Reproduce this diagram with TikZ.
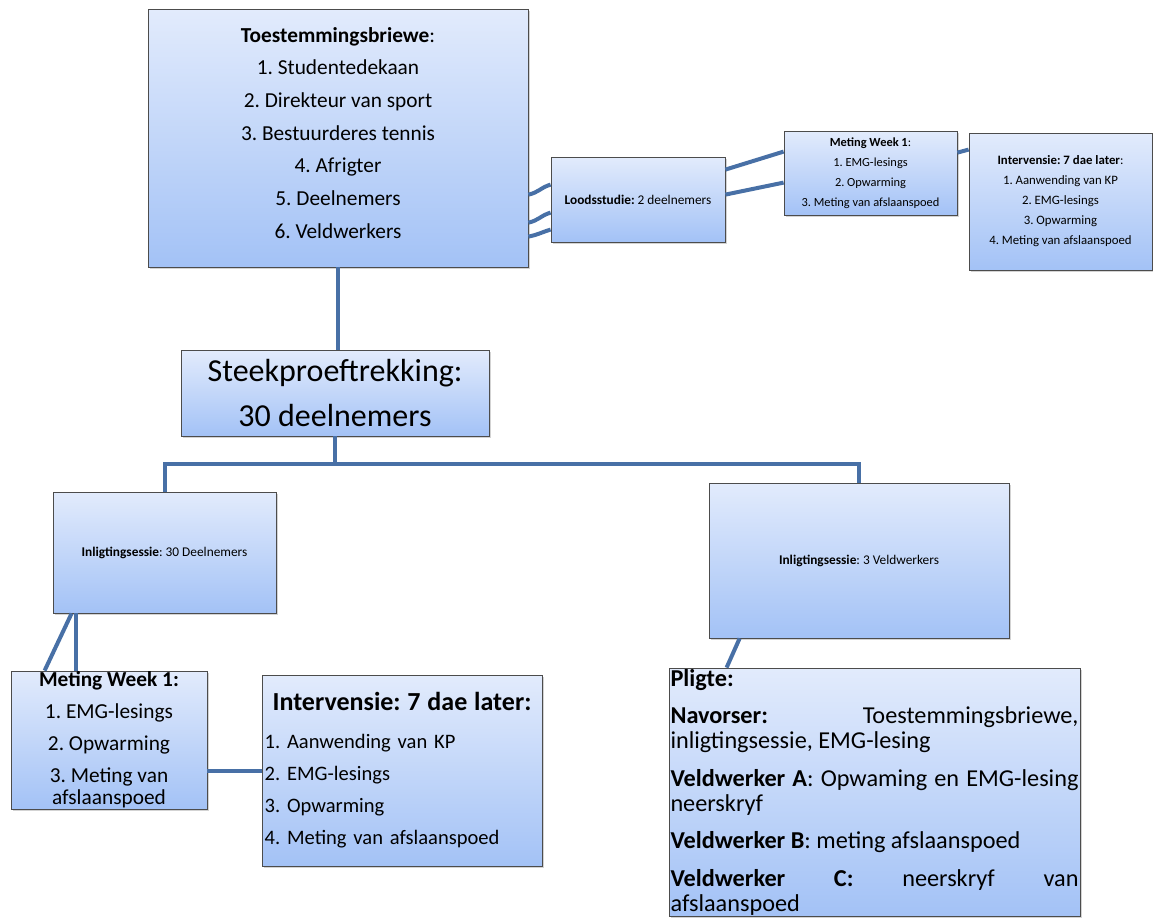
\documentclass[tikz,border=0pt]{standalone}
\usepackage{fontspec}
\setmainfont{Carlito}
\usetikzlibrary{positioning,calc,shadows}
\definecolor{boxtop}{RGB}{226,235,252}
\definecolor{boxbot}{RGB}{163,194,246}
\definecolor{linkblue}{RGB}{72,112,166}
\tikzset{
	stage/.style={draw=black!70,line width=0.6pt,top color=boxtop,bottom color=boxbot,
		drop shadow={shadow xshift=1.5pt,shadow yshift=-1.5pt,opacity=0.35},
		inner sep=2pt,align=center},
	link/.style={draw=linkblue,line width=3pt},
}
\frenchspacing

\begin{document}
\begin{tikzpicture}[x=0.75pt,y=-0.75pt]
		\useasboundingbox (0,0) rectangle (1153,918);
		
		\node[stage,minimum width=285pt,minimum height=193.5pt,font=\fontsize{16}{24.5}\selectfont] (letters) at (338,138) {\textbf{Toestemmingsbriewe}:\\1. Studentedekaan\\2. Direkteur van sport\\3. Bestuurderes tennis\\4. Afrigter\\5. Deelnemers\\6. Veldwerkers\rule[-8pt]{0pt}{1pt}};
		
		\node[stage,minimum width=130.5pt,minimum height=63.75pt,font=\fontsize{10}{12}\selectfont] (pilot) at (638,199.5) {\textbf{Loodsstudie:} 2 deelnemers};
		
		\node[stage,minimum width=129.75pt,minimum height=63pt,font=\fontsize{9.3}{15}\selectfont] (week1) at (870.5,173) {\textbf{Meting Week 1}:\\1. EMG-lesings\\2. Opwarming\\3. Meting van afslaanspoed};
		
		\node[stage,minimum width=137.25pt,minimum height=102.75pt,font=\fontsize{9.6}{15}\selectfont] (later1) at (1060.5,201.5) {\textbf{Intervensie: 7 dae later}:\\1. Aanwending van KP\\2. EMG-lesings\\3. Opwarming\\4. Meting van afslaanspoed};
		
		\node[stage,minimum width=231pt,minimum height=64.5pt,font=\fontsize{24}{34}\selectfont] (sample) at (335,393) {Steekproeftrekking:\\30 deelnemers};
		
		\node[stage,minimum width=167.25pt,minimum height=90.75pt,font=\fontsize{10}{12}\selectfont] (session1) at (164.5,552.5) {\textbf{Inligtingsessie}: 30 Deelnemers};
		
		\node[stage,minimum width=225pt,minimum height=116.25pt,font=\fontsize{10}{12}\selectfont] (session2) at (859,560.5) {\textbf{Inligtingsessie}: 3 Veldwerkers};
		
		\node[stage,minimum width=147pt,minimum height=103.5pt] (week2) at (109,740) {};
		\node[align=center,font=\fontsize{16}{16.5}\selectfont] (week2text) at (week2.center) {\textbf{Meting Week 1:}\\[7.5pt]1. EMG-lesings\\[7.5pt]2. Opwarming\\[7.5pt]3. Meting van\\afslaanspoed};
		
		\node[stage,minimum width=210pt,minimum height=143.25pt,text width=206pt,align=left,font=\fontsize{15.4}{24}\selectfont] (later2) at (402,770.5) {\makebox[\linewidth]{\fontsize{19.5}{22}\selectfont\bfseries Intervensie: 7 dae later:}\\[4.5pt]1. Aanwending van KP\\2. EMG-lesings\\3. Opwarming\\4. Meting van afslaanspoed};
		
		\node[stage,minimum width=308.25pt,minimum height=186pt] (duties) at (874.5,792) {};
		\node[anchor=north,text width=306pt,align=justify,inner sep=1pt,font=\fontsize{18.2}{19}\selectfont] (dutiestext) at (duties.north) {\hyphenpenalty=10000\exhyphenpenalty=10000\setlength{\parskip}{9pt}%
			\textbf{Pligte:}\par
			\textbf{Navorser:} Toestemmingsbriewe,\linebreak inligtingsessie, EMG-lesing\par
			\textbf{Veldwerker A}: Opwaming en EMG-lesing\linebreak neerskryf\par
			\textbf{Veldwerker B}: meting afslaanspoed\par
			\textbf{Veldwerker C:} neerskryf van\linebreak afslaanspoed};
		
		% connectors
		\draw[link] (letters.south) -- (letters.south |- sample.north);
		\draw[link] (sample.south) -- ++(0,28) coordinate (fork) -| (session1.north);
		\draw[link] (fork) -| (session2.north);
		\foreach \a/\b in {186/28,214/56,228/73}{%
			\draw[link] ($(letters.north east)+(0,\a)$) .. controls +(10,-2) and +(-10,3) .. ($(pilot.north west)+(0,\b)$);
		}
		\foreach \a/\b in {13/21,38/52}{%
			\draw[link] ($(pilot.north east)+(0,\a)$) -- ($(week1.north west)+(0,\b)$);
		}
		\draw[link] ($(week1.north east)+(0,22)$) -- ($(later1.north west)+(0,17)$);
		\draw[link] ($(session1.south west)+(23,0)$) -- ($(week2.north west)+(65,0)$);
		\draw[link] ($(session1.south west)+(19,0)$) -- ($(week2.north west)+(34,0)$);
		\draw[link] ($(week2.north east)+(0,100)$) coordinate (w2) -- (w2 -| later2.west);
		\draw[link] ($(session2.south west)+(31,0)$) -- ($(duties.north west)+(58,0)$);
	\end{tikzpicture}
\end{document}
